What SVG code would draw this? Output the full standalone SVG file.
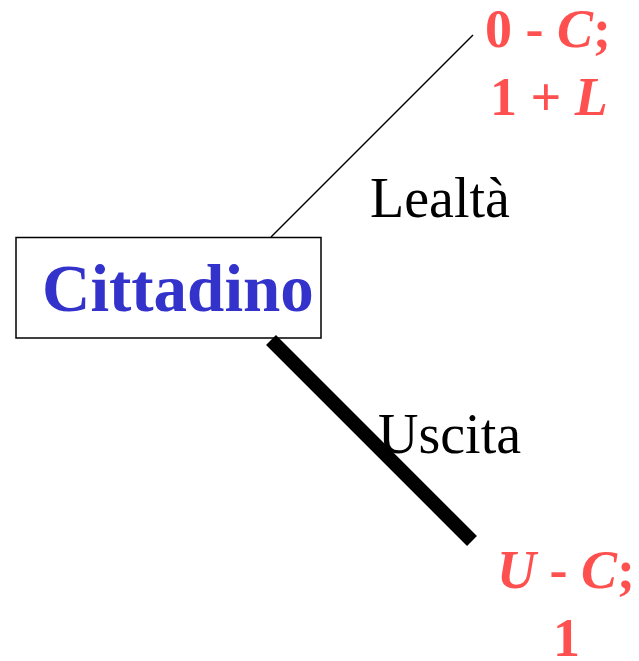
<svg xmlns="http://www.w3.org/2000/svg" width="639" height="661" viewBox="0 0 639 661">
<style>
.t{font-family:"Liberation Serif","Times New Roman",serif;}
.pay{font-family:"Liberation Serif","Times New Roman",serif;font-weight:bold;font-size:54px;fill:#FF5050;}
.lab{font-family:"Liberation Serif","Times New Roman",serif;font-size:56px;fill:#000;}
.it{font-style:italic;}
</style>
<rect width="639" height="661" fill="#fff"/>
<g id="connectors">
<line x1="271" y1="237" x2="473" y2="35" stroke="#000" stroke-width="1.5"/>
<line x1="271" y1="340" x2="472" y2="541" stroke="#000" stroke-width="14"/>
</g>
<g id="cittadino">
<rect x="16" y="237.5" width="305" height="100.5" fill="none" stroke="#000" stroke-width="1.5"/>
<text class="t" x="42" y="311" font-size="67" font-weight="bold" fill="#3333CC">Cittadino</text>
</g>
<g id="payoff-lealta">
<text class="pay" x="485" y="47">0 - <tspan class="it">C</tspan>;</text>
<text class="pay" x="490" y="115">1 + <tspan class="it">L</tspan></text>
</g>
<g id="payoff-uscita">
<text class="pay" x="497" y="588"><tspan class="it">U</tspan> - <tspan class="it">C</tspan>;</text>
<text class="pay" x="553" y="656">1</text>
</g>
<g id="labels">
<text class="lab" x="370" y="217">Lealtà</text>
<text class="lab" x="378" y="453">Uscita</text>
</g>
</svg>
